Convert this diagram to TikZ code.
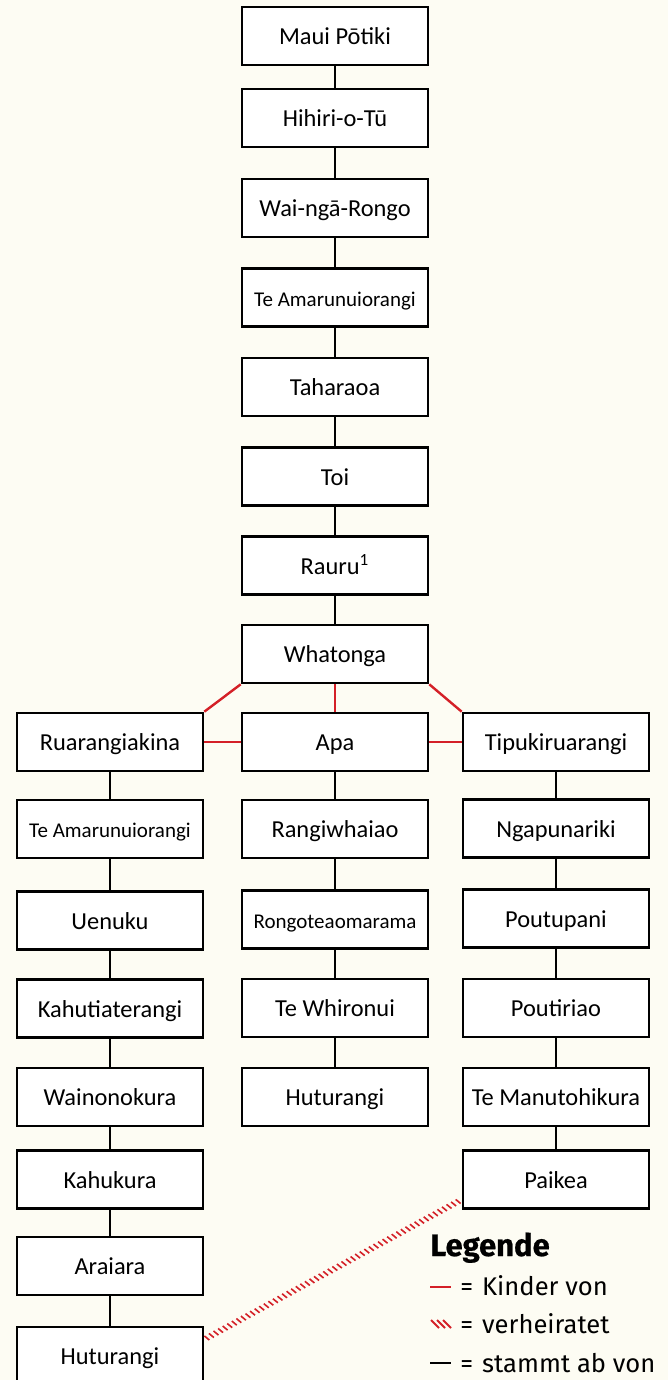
\documentclass[tikz,border=0pt]{standalone}
\usepackage{fontspec}
\setmainfont{Carlito}
\newfontfamily\legfont{Fira Sans}
\usepackage{xcolor}
\usepackage{tikz}
\usetikzlibrary{positioning, decorations.markings}
\definecolor{paper}{RGB}{253,252,243}
\definecolor{kinred}{RGB}{212,32,39}
\tikzset{
  person/.style={draw, fill=white, line width=1.3pt, minimum width=93pt, minimum height=29pt,
    inner sep=1pt, text height=1.08em, text depth=0.2em, font=\fontsize{12.2}{14}\selectfont},
  longname/.style={person, font=\fontsize{10.5}{12}\selectfont},
  descent/.style={line width=1.3pt},
  kids/.style={kinred, line width=1.2pt},
  married/.style={decoration={markings, mark=between positions 0.01 and 1 step 2.6pt with
      {\draw[kinred, line width=0.8pt] (-0.6pt,1.5pt) -- (0.6pt,-1.5pt);}},
    postaction={decorate}},
  legtext/.style={anchor=base west, inner sep=0pt, font=\legfont\fontsize{12.8}{15}\selectfont}
}

\begin{document}
\begin{tikzpicture}[x=0.5pt, y=-0.5pt]
  \clip (0,0) rectangle (668,1380);
  \fill[paper] (0,0) rectangle (668,1380);

  % middle line
  \node[person] (maui) at (335,36) {Maui Pōtiki};
  \node[person] (hihiri) at (335,118) {Hihiri-o-Tū};
  \node[person] (waingarongo) at (335,208) {Wai-ngā-Rongo};
  \node[longname] (amarutop) at (335,297.5) {Te Amarunuiorangi};
  \node[person] (taharaoa) at (335,387) {Taharaoa};
  \node[person] (toi) at (335,476.5) {Toi};
  \node[person] (rauru) at (335,565.5) {Rauru\textsuperscript{1}};
  \node[person] (whatonga) at (335,654) {Whatonga};
  \node[person] (apa) at (335,742) {Apa};
  \node[person] (rangiwhaiao) at (335,829) {Rangiwhaiao};
  \node[longname] (rongo) at (335,919.5) {Rongoteaomarama};
  \node[person] (whironui) at (335,1008) {Te Whironui};
  \node[person] (huturangim) at (335,1097) {Huturangi};

  % left line
  \node[person] (ruarangi) at (110,742) {Ruarangiakina};
  \node[longname] (amarul) at (110,829) {Te Amarunuiorangi};
  \node[person] (uenuku) at (110,920.5) {Uenuku};
  \node[person] (kahutia) at (110,1008.5) {Kahutiaterangi};
  \node[person] (waino) at (110,1097) {Wainonokura};
  \node[person] (kahukura) at (110,1179.5) {Kahukura};
  \node[person] (araiara) at (110,1266) {Araiara};
  \node[person] (huturangil) at (110,1356) {Huturangi};

  % right line
  \node[person] (tipuki) at (556,742) {Tipukiruarangi};
  \node[person] (ngapu) at (556,828.5) {Ngapunariki};
  \node[person] (poutupani) at (556,918.5) {Poutupani};
  \node[person] (poutiriao) at (556,1008) {Poutiriao};
  \node[person] (manu) at (556,1097) {Te Manutohikura};
  \node[person] (paikea) at (556,1179.5) {Paikea};

  \draw[descent] (maui) -- (hihiri) -- (waingarongo) -- (amarutop) -- (taharaoa)
    -- (toi) -- (rauru) -- (whatonga);
  \draw[descent] (apa) -- (rangiwhaiao) -- (rongo) -- (whironui) -- (huturangim);
  \draw[descent] (ruarangi) -- (amarul) -- (uenuku) -- (kahutia) -- (waino)
    -- (kahukura) -- (araiara) -- (huturangil);
  \draw[descent] (tipuki) -- (ngapu) -- (poutupani) -- (poutiriao) -- (manu) -- (paikea);

  \draw[kids] (whatonga.south west) -- (ruarangi.north east);
  \draw[kids] (whatonga) -- (apa);
  \draw[kids] (whatonga.south east) -- (tipuki.north west);
  \draw[kids] (ruarangi) -- (apa) -- (tipuki);

  \path[married] (huturangil.10) -- (paikea.192);

  % legend
  \node[anchor=base west, inner sep=0pt,
    font=\legfont\bfseries\addfontfeatures{FakeBold=0.6}\fontsize{15.5}{18}\selectfont]
    (legende) at (430,1256) {Legende};
  \draw[kids] (430,1287) -- (451,1287);
  \node[legtext] (kinder) at (460,1295) {=\hspace{0.35em}Kinder von};
  \foreach \hx in {431,437,443}
    \draw[kinred, line width=1pt] (\hx,1320) -- (\hx+8,1328);
  \node[legtext] (verh) at (460,1333) {=\hspace{0.35em}verheiratet};
  \draw[descent] (430,1363) -- (451,1363);
  \node[legtext] (stammt) at (460,1372) {=\hspace{0.35em}stammt ab von};
\end{tikzpicture}
\end{document}
